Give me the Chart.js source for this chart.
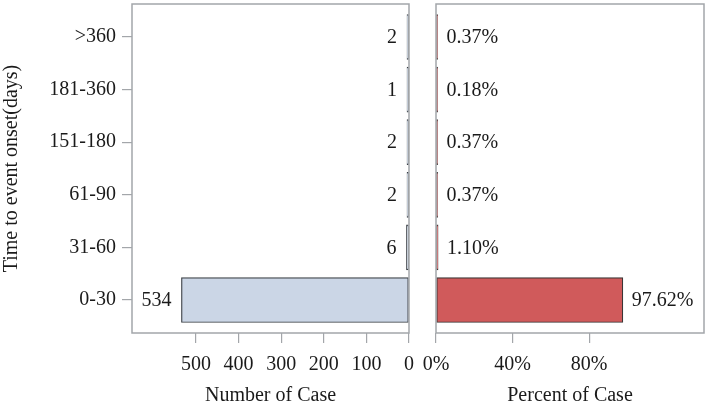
<!DOCTYPE html>
<html>
<head>
<meta charset="utf-8">
<script src="https://cdn.jsdelivr.net/npm/chart.js@4/dist/chart.umd.min.js"></script>
<style>
  html, body { margin: 0; padding: 0; background: #ffffff; }
  #wrap { position: relative; width: 708px; height: 408px; overflow: hidden; }
  #boxL { position: absolute; left: 0; top: 0; width: 420px; height: 408px; }
  #boxR { position: absolute; left: 420px; top: 0; width: 288px; height: 408px; }
</style>
</head>
<body>
<div id="wrap">
  <div id="boxL"><canvas id="left"></canvas></div>
  <div id="boxR"><canvas id="right"></canvas></div>
</div>
<script>
// ---- data (top to bottom) ----
const categories = [">360", "181-360", "151-180", "61-90", "31-60", "0-30"];
const caseCounts = [2, 1, 2, 2, 6, 534];
const casePercents = [0.37, 0.18, 0.37, 0.37, 1.10, 97.62];
const countTicks = [0, 100, 200, 300, 400, 500];
const percentTicks = [0, 40, 80];
const yTitle = "Time to event onset(days)";
const leftTitle = "Number of Case";
const rightTitle = "Percent of Case";

const FONT = "'Liberation Serif', 'Times New Roman', serif";
const TEXT = "#1a1a1a";
const FRAME = "#a3a6aa";

Chart.defaults.font.family = FONT;
Chart.defaults.font.size = 20;
Chart.defaults.color = TEXT;

const framePlugin = {
  id: 'frame',
  afterDraw(chart) {
    const a = chart.chartArea, ctx = chart.ctx;
    ctx.save();
    ctx.strokeStyle = FRAME;
    ctx.lineWidth = 1.5;
    ctx.strokeRect(a.left, a.top, a.right - a.left, a.bottom - a.top);
    ctx.restore();
  }
};

function labelPlugin(fmt, side) {
  return {
    id: 'valueLabels',
    afterDatasetsDraw(chart) {
      const ctx = chart.ctx;
      const meta = chart.getDatasetMeta(0);
      const ds = chart.data.datasets[0].data;
      ctx.save();
      ctx.font = "20px " + FONT;
      ctx.fillStyle = TEXT;
      ctx.textBaseline = 'middle';
      meta.data.forEach((bar, i) => {
        const v = ds[i].x;
        if (side === 'left') {
          ctx.textAlign = 'right';
          ctx.fillText(fmt(v), bar.x - 10, bar.y + 1);
        } else {
          ctx.textAlign = 'left';
          ctx.fillText(fmt(v), bar.x + 9, bar.y + 1);
        }
      });
      ctx.restore();
    }
  };
}

const yRange = { min: -0.627, max: 5.627 };

function setTicks(values) {
  return function(scale) { scale.ticks = values.map(v => ({ value: v })); };
}
function noPadV(s) { s.paddingTop = 0; s.paddingBottom = 0; }
function noPadH(s) { s.paddingLeft = 0; s.paddingRight = 0; }

// ---- left chart ----
new Chart(document.getElementById('left'), {
  type: 'bar',
  data: {
    datasets: [{
      data: caseCounts.map((v, i) => ({ x: v, y: i })),
      backgroundColor: '#cbd6e6',
      borderColor: '#3b4046',
      borderWidth: 1.2,
      borderSkipped: false,
      barThickness: 45,
      minBarLength: 2
    }]
  },
  options: {
    indexAxis: 'y',
    responsive: true,
    maintainAspectRatio: false,
    animation: false,
    layout: { padding: { left: 0, right: 11, top: 4, bottom: 0 } },
    plugins: { legend: { display: false }, tooltip: { enabled: false } },
    scales: {
      x: {
        type: 'linear',
        reverse: true,
        min: 0, max: 650,
        afterBuildTicks: setTicks(countTicks),
        afterFit(s) { s.height = 75; noPadH(s); },
        grid: { display: true, drawOnChartArea: false, drawTicks: true, tickLength: 10, color: FRAME, lineWidth: 1.2 },
        border: { display: false },
        ticks: { padding: 10, color: TEXT, font: { size: 20 }, maxRotation: 0 },
        title: { display: true, text: leftTitle, color: TEXT, font: { size: 20 }, padding: { top: 8, bottom: 0 } }
      },
      y: {
        type: 'linear',
        reverse: true,
        offset: false,
        min: yRange.min, max: yRange.max,
        afterBuildTicks: setTicks(categories.map((c, i) => i)),
        afterFit(s) { s.width = 132; noPadV(s); },
        grid: { display: true, offset: false, drawOnChartArea: false, drawTicks: true, tickLength: 10, color: FRAME, lineWidth: 1.2 },
        border: { display: false },
        ticks: { padding: 6, color: TEXT, font: { size: 20 }, callback: (v) => categories[v] },
        title: { display: true, text: yTitle, color: TEXT, font: { size: 20 }, padding: { top: 0, bottom: 0 } }
      }
    }
  },
  plugins: [framePlugin, labelPlugin(v => String(v), 'left')]
});

// ---- right chart ----
new Chart(document.getElementById('right'), {
  type: 'bar',
  data: {
    datasets: [{
      data: casePercents.map((v, i) => ({ x: v, y: i })),
      backgroundColor: '#d05a5b',
      borderColor: '#3b3535',
      borderWidth: 1.2,
      borderSkipped: false,
      barThickness: 45,
      minBarLength: 1.6
    }]
  },
  options: {
    indexAxis: 'y',
    responsive: true,
    maintainAspectRatio: false,
    animation: false,
    layout: { padding: { left: 16, right: 4, top: 4, bottom: 0 } },
    plugins: { legend: { display: false }, tooltip: { enabled: false } },
    scales: {
      x: {
        type: 'linear',
        min: 0, max: 140,
        afterBuildTicks: setTicks(percentTicks),
        afterFit(s) { s.height = 75; noPadH(s); },
        grid: { display: true, drawOnChartArea: false, drawTicks: true, tickLength: 10, color: FRAME, lineWidth: 1.2 },
        border: { display: false },
        ticks: { padding: 10, color: TEXT, font: { size: 20 }, maxRotation: 0, callback: (v) => v + '%' },
        title: { display: true, text: rightTitle, color: TEXT, font: { size: 20 }, padding: { top: 8, bottom: 0 } }
      },
      y: {
        type: 'linear',
        reverse: true,
        offset: false,
        display: false,
        min: yRange.min, max: yRange.max
      }
    }
  },
  plugins: [framePlugin, labelPlugin(v => v.toFixed(2) + '%', 'right')]
});
</script>
</body>
</html>
